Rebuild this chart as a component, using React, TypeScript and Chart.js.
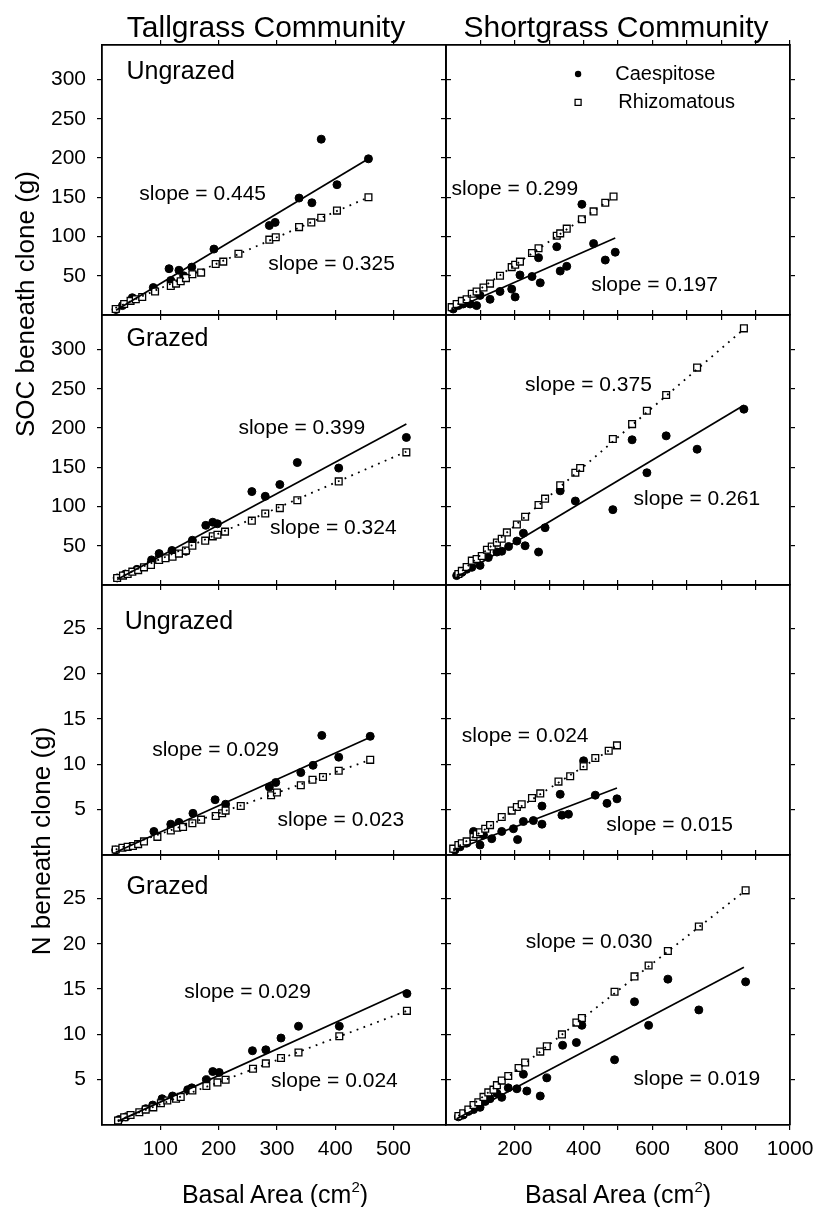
import React, { useEffect, useRef } from "react";
import { Chart, registerables } from "chart.js";

Chart.register(...registerables);

const FONT = "'Liberation Sans', Arial, Helvetica, sans-serif";

// ---------- axes ----------
const X_MAX_TALL = 590;
const X_MAX_SHORT = 1000;
const Y_MAX_SOC = 344;
const Y_MAX_N = 29.8;
const X_TICKS_TALL = [100, 200, 300, 400, 500];
const X_LABELS_TALL = [100, 200, 300, 400, 500];
const X_TICKS_SHORT = [100, 200, 300, 400, 500, 600, 700, 800, 900, 1000];
const X_LABELS_SHORT = [200, 400, 600, 800, 1000];
const Y_TICKS_SOC = [50, 100, 150, 200, 250, 300];
const Y_TICKS_N = [5, 10, 15, 20, 25];

// ---------- Tallgrass, Ungrazed, SOC ----------
const tuSocCaesX = [24, 35, 52, 88, 115, 118, 132, 140, 154, 192, 287, 297, 338, 360, 376, 403, 457];
const tuSocCaesY = [7, 12, 22, 35, 59, 44, 57, 50, 61, 84, 114, 118, 149, 143, 224, 166, 199];
const tuSocRhizX = [23.5, 38, 49, 58, 69, 91, 118, 127, 135, 144, 155, 170, 195, 208, 234, 287, 298, 338, 359, 376, 403, 457];
const tuSocRhizY = [7.6, 14, 18, 20, 23, 30, 37, 40, 43, 47, 52, 54, 65, 68, 78, 96, 99, 112, 118, 124, 133, 150];
const tuSocCaesLineX = [24, 457];
const tuSocCaesLineY = [6, 199];
const tuSocRhizLineX = [23, 457];
const tuSocRhizLineY = [9, 150];

// ---------- Tallgrass, Grazed, SOC ----------
const tgSocCaesX = [26, 40, 60, 85, 98, 120, 144, 155, 178, 190, 198, 257, 280, 305, 335, 406, 522];
const tgSocCaesY = [9, 14, 20, 32, 40, 44, 43, 57, 76, 80, 78, 119, 113, 128, 156, 149, 188];
const tgSocRhizX = [26, 36, 44, 52, 62, 72, 84, 98, 109, 121, 132, 144, 155, 177, 190, 198, 211, 257, 280, 305, 335, 406, 522];
const tgSocRhizY = [9, 12, 14, 17, 19, 22.5, 25.5, 32, 34, 36, 40, 44, 50, 56.5, 62, 64, 68, 82, 91, 98, 108, 132, 169];
const tgSocCaesLineX = [26, 522];
const tgSocCaesLineY = [7, 205];
const tgSocRhizLineX = [26, 522];
const tgSocRhizLineY = [9, 170];

// ---------- Shortgrass, Ungrazed, SOC ----------
const suSocCaesX = [21, 36, 50, 70, 89, 99, 128, 157, 191, 201, 215, 250, 269, 274, 322, 332, 351, 395, 429, 463, 492];
const suSocCaesY = [7.6, 12, 14, 14, 12, 25, 20, 30, 33, 23, 51, 49, 73, 41, 87, 56, 62, 141, 91, 70, 80];
const suSocRhizX = [16.5, 31, 46, 60, 75, 89, 109, 128, 157, 191, 201, 215, 250, 269, 322, 332, 351, 395, 429, 463, 487];
const suSocRhizY = [10, 14, 18, 20, 27, 30, 35, 40, 50, 61, 64, 68, 79, 85, 101, 104, 110, 122, 132, 143, 151];
const suSocCaesLineX = [12, 492];
const suSocCaesLineY = [5.5, 98];
const suSocRhizLineX = [16, 487];
const suSocRhizLineY = [8, 150];

// ---------- Shortgrass, Grazed, SOC ----------
const sgSocCaesX = [31, 46, 60, 75, 99, 123, 148, 162, 182, 206, 225, 230, 269, 288, 332, 376, 485, 541, 584, 640, 730, 866];
const sgSocCaesY = [12, 16, 20, 22.5, 25, 35, 42, 43, 49, 56, 66, 50, 42, 73, 120, 107, 96, 185, 143, 190, 173, 224];
const sgSocRhizX = [36, 46, 60, 75, 89, 104, 119, 133, 148, 162, 177, 206, 230, 269, 288, 332, 376, 390, 485, 541, 584, 640, 730, 866];
const sgSocRhizY = [14, 18, 23, 31, 33, 37, 45, 49, 54, 59, 67, 77, 87, 102, 110, 127, 143, 149, 186, 205, 222, 242, 277, 327];
const sgSocCaesLineX = [31, 866];
const sgSocCaesLineY = [10, 229];
const sgSocRhizLineX = [31, 866];
const sgSocRhizLineY = [12, 326];

// ---------- Tallgrass, Ungrazed, N ----------
const tuNCaesX = [23.5, 89, 118, 132, 156, 194, 212, 287, 298, 341, 362, 377, 406, 460];
const tuNCaesY = [0.55, 2.6, 3.4, 3.6, 4.6, 6.1, 5.6, 7.5, 8, 9.1, 9.9, 13.2, 10.8, 13.1];
const tuNRhizX = [23.5, 35, 44, 53, 62, 72, 95, 118, 129, 139, 155, 170, 195, 206, 212, 238, 290, 300, 341, 361, 379, 406, 460];
const tuNRhizY = [0.6, 0.8, 0.9, 1.0, 1.2, 1.5, 2.0, 2.7, 3.0, 3.1, 3.5, 3.9, 4.3, 4.6, 4.9, 5.4, 6.6, 6.9, 7.7, 8.3, 8.6, 9.3, 10.5];
const tuNCaesLineX = [23.5, 460];
const tuNCaesLineY = [0.3, 13.0];
const tuNRhizLineX = [23.5, 460];
const tuNRhizLineY = [0.6, 10.5];

// ---------- Shortgrass, Ungrazed, N ----------
const suNCaesX = [26, 41, 60, 80, 99, 109, 133, 162, 196, 208, 225, 254, 279, 279, 332, 337, 356, 400, 434, 468, 497];
const suNCaesY = [0.55, 0.9, 1.3, 2.6, 1.1, 2.2, 1.8, 2.6, 2.9, 1.7, 3.7, 3.8, 3.4, 5.4, 6.7, 4.4, 4.5, 10.4, 6.6, 5.7, 6.2];
const suNRhizX = [21, 36, 46, 60, 80, 89, 99, 114, 128, 162, 191, 206, 220, 250, 274, 327, 361, 400, 434, 473, 497];
const suNRhizY = [0.7, 1.1, 1.3, 1.5, 2.0, 2.3, 2.5, 2.9, 3.3, 4.2, 4.9, 5.3, 5.6, 6.3, 6.8, 8.1, 8.7, 9.8, 10.7, 11.5, 12.1];
const suNCaesLineX = [21, 497];
const suNCaesLineY = [0.5, 7.4];
const suNRhizLineX = [21, 497];
const suNRhizLineY = [0.6, 12.1];

// ---------- Tallgrass, Grazed, N ----------
const tgNCaesX = [29, 41, 75, 87, 103, 121, 147, 154, 179, 190, 201, 258, 281, 307, 337, 407, 523];
const tgNCaesY = [0.6, 0.9, 1.8, 2.2, 2.9, 3.2, 3.9, 4.1, 5.0, 5.9, 5.8, 8.2, 8.3, 9.6, 10.9, 10.9, 14.5];
const tgNRhizX = [27.5, 38, 49, 64, 75, 88, 101, 112, 127, 135, 155, 179, 198, 212, 259, 281, 307, 337, 407, 523];
const tgNRhizY = [0.5, 0.85, 1.1, 1.4, 1.7, 1.95, 2.4, 2.7, 2.9, 3.1, 3.8, 4.3, 4.7, 5.0, 6.2, 6.8, 7.4, 8.0, 9.8, 12.6];
const tgNCaesLineX = [27, 523];
const tgNCaesLineY = [0.4, 14.9];
const tgNRhizLineX = [27, 523];
const tgNRhizLineY = [0.5, 12.6];

// ---------- Shortgrass, Grazed, N ----------
const sgNCaesX = [36, 50, 65, 80, 99, 114, 128, 148, 162, 181, 206, 225, 235, 274, 293, 339, 379, 395, 490, 548, 589, 645, 735, 871];
const sgNCaesY = [0.9, 1.1, 1.5, 1.7, 1.95, 2.6, 2.9, 3.5, 3.05, 4.1, 4.0, 5.6, 3.75, 3.2, 5.2, 8.8, 9.1, 11.0, 7.2, 13.6, 11.0, 16.1, 12.7, 15.8];
const sgNRhizX = [36, 50, 65, 80, 94, 109, 123, 138, 148, 162, 181, 211, 230, 274, 293, 337, 379, 395, 490, 548, 589, 645, 735, 871];
const sgNRhizY = [1.0, 1.3, 1.7, 2.2, 2.5, 3.1, 3.6, 3.9, 4.4, 4.9, 5.4, 6.3, 6.9, 8.1, 8.7, 10.0, 11.3, 11.8, 14.7, 16.4, 17.6, 19.2, 21.9, 25.9];
const sgNCaesLineX = [31, 866];
const sgNCaesLineY = [0.7, 17.4];
const sgNRhizLineX = [36, 871];
const sgNRhizLineY = [1.0, 25.9];

// ---------- legend (in Shortgrass Ungrazed SOC panel, data units) ----------
const LEGEND_LABELS = ["Caespitose", "Rhizomatous"];
const LEGEND_MARK_X = 384;
const LEGEND_TEXT_X = [492, 501];
const LEGEND_Y = [307, 271];

// ---------- layout ----------
const PLOT_W = 344;
const PLOT_H = 270;
const COL_LEFT = [102, 446];
const ROW_TOP = [45, 315, 585, 855];
const PAD = { l: 70, r: 40, t: 30, b: 50 };
const Y_W = 60;
const Y2_W = 10;
const X_H = 40;
const X2_H = 10;

type Note = { text: string; x: number; y: number; size: number };
type PanelDef = {
  key: string;
  col: number;
  row: number;
  caesX: number[];
  caesY: number[];
  rhizX: number[];
  rhizY: number[];
  caesLineX: number[];
  caesLineY: number[];
  rhizLineX: number[];
  rhizLineY: number[];
  notes: Note[];
  legend?: boolean;
};

const PANELS: PanelDef[] = [
  {
    key: "tuSoc", col: 0, row: 0,
    caesX: tuSocCaesX, caesY: tuSocCaesY, rhizX: tuSocRhizX, rhizY: tuSocRhizY,
    caesLineX: tuSocCaesLineX, caesLineY: tuSocCaesLineY, rhizLineX: tuSocRhizLineX, rhizLineY: tuSocRhizLineY,
    notes: [
      { text: "Ungrazed", x: 42, y: 309, size: 25 },
      { text: "slope = 0.445", x: 64, y: 154, size: 21 },
      { text: "slope = 0.325", x: 285, y: 65, size: 21 },
    ],
  },
  {
    key: "suSoc", col: 1, row: 0,
    caesX: suSocCaesX, caesY: suSocCaesY, rhizX: suSocRhizX, rhizY: suSocRhizY,
    caesLineX: suSocCaesLineX, caesLineY: suSocCaesLineY, rhizLineX: suSocRhizLineX, rhizLineY: suSocRhizLineY,
    notes: [
      { text: "slope = 0.299", x: 16, y: 160, size: 21 },
      { text: "slope = 0.197", x: 422, y: 38, size: 21 },
    ],
    legend: true,
  },
  {
    key: "tgSoc", col: 0, row: 1,
    caesX: tgSocCaesX, caesY: tgSocCaesY, rhizX: tgSocRhizX, rhizY: tgSocRhizY,
    caesLineX: tgSocCaesLineX, caesLineY: tgSocCaesLineY, rhizLineX: tgSocRhizLineX, rhizLineY: tgSocRhizLineY,
    notes: [
      { text: "Grazed", x: 42, y: 313, size: 25 },
      { text: "slope = 0.399", x: 234, y: 200, size: 21 },
      { text: "slope = 0.324", x: 288, y: 72, size: 21 },
    ],
  },
  {
    key: "sgSoc", col: 1, row: 1,
    caesX: sgSocCaesX, caesY: sgSocCaesY, rhizX: sgSocRhizX, rhizY: sgSocRhizY,
    caesLineX: sgSocCaesLineX, caesLineY: sgSocCaesLineY, rhizLineX: sgSocRhizLineX, rhizLineY: sgSocRhizLineY,
    notes: [
      { text: "slope = 0.375", x: 230, y: 255, size: 21 },
      { text: "slope = 0.261", x: 545, y: 109, size: 21 },
    ],
  },
  {
    key: "tuN", col: 0, row: 2,
    caesX: tuNCaesX, caesY: tuNCaesY, rhizX: tuNRhizX, rhizY: tuNRhizY,
    caesLineX: tuNCaesLineX, caesLineY: tuNCaesLineY, rhizLineX: tuNRhizLineX, rhizLineY: tuNRhizLineY,
    notes: [
      { text: "Ungrazed", x: 39, y: 25.7, size: 25 },
      { text: "slope = 0.029", x: 86, y: 11.6, size: 21 },
      { text: "slope = 0.023", x: 301, y: 3.8, size: 21 },
    ],
  },
  {
    key: "suN", col: 1, row: 2,
    caesX: suNCaesX, caesY: suNCaesY, rhizX: suNRhizX, rhizY: suNRhizY,
    caesLineX: suNCaesLineX, caesLineY: suNCaesLineY, rhizLineX: suNRhizLineX, rhizLineY: suNRhizLineY,
    notes: [
      { text: "slope = 0.024", x: 46, y: 13.1, size: 21 },
      { text: "slope = 0.015", x: 466, y: 3.3, size: 21 },
    ],
  },
  {
    key: "tgN", col: 0, row: 3,
    caesX: tgNCaesX, caesY: tgNCaesY, rhizX: tgNRhizX, rhizY: tgNRhizY,
    caesLineX: tgNCaesLineX, caesLineY: tgNCaesLineY, rhizLineX: tgNRhizLineX, rhizLineY: tgNRhizLineY,
    notes: [
      { text: "Grazed", x: 42, y: 26.3, size: 25 },
      { text: "slope = 0.029", x: 141, y: 14.7, size: 21 },
      { text: "slope = 0.024", x: 290, y: 4.8, size: 21 },
    ],
  },
  {
    key: "sgN", col: 1, row: 3,
    caesX: sgNCaesX, caesY: sgNCaesY, rhizX: sgNRhizX, rhizY: sgNRhizY,
    caesLineX: sgNCaesLineX, caesLineY: sgNCaesLineY, rhizLineX: sgNRhizLineX, rhizLineY: sgNRhizLineY,
    notes: [
      { text: "slope = 0.030", x: 232, y: 20.2, size: 21 },
      { text: "slope = 0.019", x: 545, y: 5.0, size: 21 },
    ],
  },
];

const annotPlugin = {
  id: "annot",
  afterDatasetsDraw(chart: any, _args: any, opts: any) {
    const { ctx, scales } = chart;
    const xs = scales.x;
    const ys = scales.y;
    ctx.save();
    ctx.fillStyle = "#000";
    ctx.textBaseline = "middle";
    ctx.textAlign = "left";
    for (const n of (opts.notes || []) as Note[]) {
      ctx.font = `${n.size}px ${FONT}`;
      ctx.fillText(n.text, xs.getPixelForValue(n.x), ys.getPixelForValue(n.y));
    }
    if (opts.legend) {
      ctx.font = `20px ${FONT}`;
      LEGEND_LABELS.forEach((lab, i) => {
        const mx = xs.getPixelForValue(LEGEND_MARK_X);
        const my = ys.getPixelForValue(LEGEND_Y[i]);
        ctx.beginPath();
        if (i === 0) {
          ctx.arc(mx, my, 3.2, 0, Math.PI * 2);
          ctx.fillStyle = "#000";
          ctx.fill();
        } else {
          ctx.rect(mx - 3, my - 3, 6, 6);
          ctx.fillStyle = "#fff";
          ctx.fill();
          ctx.lineWidth = 1.3;
          ctx.strokeStyle = "#000";
          ctx.stroke();
        }
        ctx.fillStyle = "#000";
        ctx.fillText(lab, xs.getPixelForValue(LEGEND_TEXT_X[i]), my);
      });
    }
    ctx.restore();
  },
};

function PanelChart({ p }: { p: PanelDef }) {
  const ref = useRef<HTMLCanvasElement>(null);
  const cw = PLOT_W + PAD.l + PAD.r;
  const ch = PLOT_H + PAD.t + PAD.b;
  useEffect(() => {
    if (!ref.current) return;
    const isShort = p.col === 1;
    const isN = p.row >= 2;
    const xMax = isShort ? X_MAX_SHORT : X_MAX_TALL;
    const yMax = isN ? Y_MAX_N : Y_MAX_SOC;
    const xTicks = isShort ? X_TICKS_SHORT : X_TICKS_TALL;
    const xLabels = isShort ? X_LABELS_SHORT : X_LABELS_TALL;
    const yTicks = isN ? Y_TICKS_N : Y_TICKS_SOC;
    const showX = p.row === 3;
    const showY = p.col === 0;
    const pts = (xs: number[], ys: number[]) => xs.map((x, i) => ({ x, y: ys[i] }));
    const grid = {
      display: true,
      drawOnChartArea: false,
      drawTicks: true,
      tickLength: 5,
      color: "#000",
      tickColor: "#000",
      lineWidth: 1.2,
      tickWidth: 1.2,
    };
    const border = { display: true, color: "#000", width: 1.8 };
    const tickFont = { family: FONT, size: 21 };
    const setX = (s: any) => {
      s.ticks = xTicks.map((v) => ({ value: v }));
    };
    const setY = (s: any) => {
      s.ticks = yTicks.map((v) => ({ value: v }));
    };
    const chart = new Chart(ref.current, {
      type: "scatter",
      data: {
        datasets: [
          {
            label: "Caespitose",
            data: pts(p.caesX, p.caesY),
            pointStyle: "circle",
            pointRadius: 4,
            pointBackgroundColor: "#000",
            pointBorderColor: "#000",
            pointBorderWidth: 1,
            backgroundColor: "#000",
            borderColor: "#000",
            order: 4,
          },
          {
            label: "Rhizomatous",
            data: pts(p.rhizX, p.rhizY),
            pointStyle: "rect",
            pointRadius: 4.8,
            pointBackgroundColor: "#fff",
            pointBorderColor: "#000",
            pointBorderWidth: 1.3,
            backgroundColor: "#fff",
            borderColor: "#000",
            order: 3,
          },
          {
            label: "Caespitose fit",
            data: pts(p.caesLineX, p.caesLineY),
            showLine: true,
            pointRadius: 0,
            borderColor: "#000",
            borderWidth: 1.7,
            order: 2,
          },
          {
            label: "Rhizomatous fit",
            data: pts(p.rhizLineX, p.rhizLineY),
            showLine: true,
            pointRadius: 0,
            borderColor: "#000",
            borderWidth: 1.8,
            borderDash: [1.8, 5.5],
            order: 1,
          },
        ] as any,
      },
      options: {
        responsive: false,
        animation: false,
        devicePixelRatio: 1,
        events: [],
        layout: {
          padding: { left: PAD.l - Y_W, right: PAD.r - Y2_W, top: PAD.t - X2_H, bottom: PAD.b - X_H },
        },
        plugins: {
          legend: { display: false },
          tooltip: { enabled: false },
          annot: { notes: p.notes, legend: !!p.legend },
        } as any,
        scales: {
          x: {
            type: "linear",
            position: "bottom",
            min: 0,
            max: xMax,
            grid,
            border,
            ticks: {
              display: showX,
              autoSkip: false,
              maxRotation: 0,
              minRotation: 0,
              padding: 7,
              color: "#000",
              font: tickFont,
              callback: (v: any) => (xLabels.includes(Number(v)) ? String(v) : ""),
            },
            afterBuildTicks: setX,
            afterFit: (s: any) => {
              s.height = X_H;
            },
          },
          x2: {
            type: "linear",
            position: "top",
            min: 0,
            max: xMax,
            grid,
            border,
            ticks: { display: false },
            afterBuildTicks: setX,
            afterFit: (s: any) => {
              s.height = X2_H;
            },
          },
          y: {
            type: "linear",
            position: "left",
            min: 0,
            max: yMax,
            grid,
            border,
            ticks: {
              display: showY,
              autoSkip: false,
              padding: 11,
              color: "#000",
              font: tickFont,
              callback: (v: any) => String(v),
            },
            afterBuildTicks: setY,
            afterFit: (s: any) => {
              s.width = Y_W;
            },
          },
          y2: {
            type: "linear",
            position: "right",
            min: 0,
            max: yMax,
            grid,
            border,
            ticks: { display: false },
            afterBuildTicks: setY,
            afterFit: (s: any) => {
              s.width = Y2_W;
            },
          },
        } as any,
      },
      plugins: [annotPlugin as any],
    });
    return () => chart.destroy();
  }, [p]);
  return (
    <canvas
      ref={ref}
      width={cw}
      height={ch}
      style={{
        position: "absolute",
        left: COL_LEFT[p.col] - PAD.l,
        top: ROW_TOP[p.row] - PAD.t,
        width: cw,
        height: ch,
      }}
    />
  );
}

const textBase: React.CSSProperties = {
  position: "absolute",
  fontFamily: FONT,
  color: "#000",
  textAlign: "center",
  whiteSpace: "nowrap",
};

export default function App() {
  return (
    <div
      style={{
        position: "absolute",
        left: 0,
        top: 0,
        width: 819,
        height: 1207,
        overflow: "hidden",
        background: "#fff",
      }}
    >
      {PANELS.map((p) => (
        <PanelChart key={p.key} p={p} />
      ))}
      <div style={{ ...textBase, left: 266 - 200, top: 12, width: 400, fontSize: 30, lineHeight: "30px" }}>
        Tallgrass Community
      </div>
      <div style={{ ...textBase, left: 616 - 200, top: 12, width: 400, fontSize: 30, lineHeight: "30px" }}>
        Shortgrass Community
      </div>
      <div style={{ ...textBase, left: 275 - 150, top: 1182, width: 300, fontSize: 25, lineHeight: "25px" }}>
        Basal Area (cm<span style={{ fontSize: "0.6em", position: "relative", top: "-0.75em" }}>2</span>)
      </div>
      <div style={{ ...textBase, left: 618 - 150, top: 1182, width: 300, fontSize: 25, lineHeight: "25px" }}>
        Basal Area (cm<span style={{ fontSize: "0.6em", position: "relative", top: "-0.75em" }}>2</span>)
      </div>
      <div
        style={{
          ...textBase,
          left: 25 - 160,
          top: 304 - 15,
          width: 320,
          height: 30,
          fontSize: 26,
          lineHeight: "30px",
          transform: "rotate(-90deg)",
        }}
      >
        SOC beneath clone (g)
      </div>
      <div
        style={{
          ...textBase,
          left: 41 - 160,
          top: 841 - 15,
          width: 320,
          height: 30,
          fontSize: 26,
          lineHeight: "30px",
          transform: "rotate(-90deg)",
        }}
      >
        N beneath clone (g)
      </div>
    </div>
  );
}
